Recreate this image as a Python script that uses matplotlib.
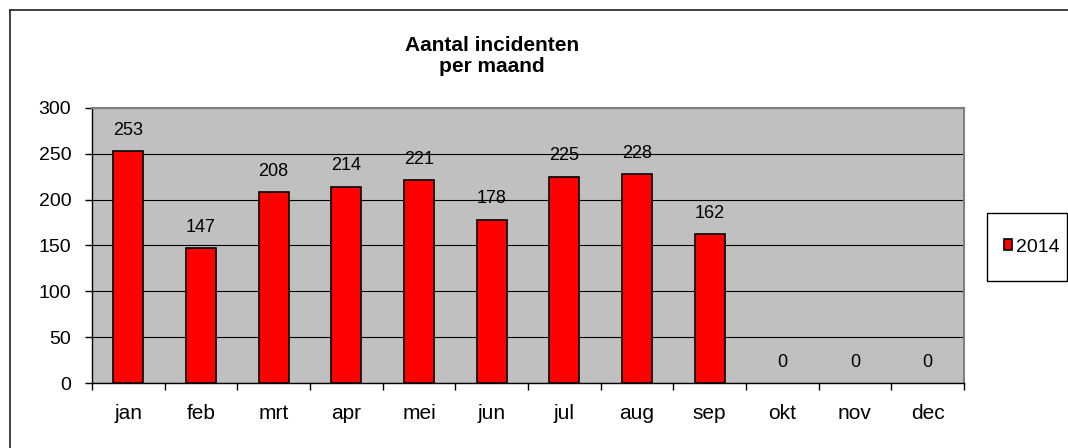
import numpy as np
import matplotlib as mpl
mpl.use("Agg")
import matplotlib.pyplot as plt
from matplotlib.patches import Rectangle
from matplotlib.lines import Line2D

months = ["jan", "feb", "mrt", "apr", "mei", "jun", "jul", "aug", "sep", "okt", "nov", "dec"]
counts_2014 = [253, 147, 208, 214, 221, 178, 225, 228, 162, 0, 0, 0]
yticks = [0, 50, 100, 150, 200, 250, 300]

plt.rcParams.update({"font.family": "Liberation Sans"})

W, H = 1068, 448
fig = plt.figure(figsize=(W / 100, H / 100), dpi=100)
fig.patch.set_facecolor("white")

# outer chart frame (cut off at right/bottom like the source)
fig.add_artist(Line2D([10 / W, 1.0], [1 - 10 / H, 1 - 10 / H], transform=fig.transFigure,
                      color="#303030", lw=1.3))
fig.add_artist(Line2D([10 / W, 10 / W], [0.0, 1 - 10 / H], transform=fig.transFigure,
                      color="#303030", lw=1.3))

ax = fig.add_axes([92 / W, (H - 383) / H, 872 / W, 275 / H])
ax.set_facecolor("#C0C0C0")
x = np.arange(len(months))
edge_w = [1.2 if v > 0 else 0 for v in counts_2014]
bars = ax.bar(x, counts_2014, width=0.41, color="#FF0000", edgecolor="black",
              linewidth=edge_w, zorder=3, label="2014")
for xi, v in zip(x, counts_2014):
    ax.annotate(str(v), (xi, v), xytext=(0, 15), textcoords="offset points",
                ha="center", va="center", fontsize=13)

ax.set_xlim(-0.5, len(months) - 0.5)
ax.set_ylim(0, 300)
ax.set_yticks(yticks)
ax.set_yticklabels([str(t) for t in yticks], fontsize=14)
ax.yaxis.grid(True, color="black", lw=0.8, zorder=1)
ax.set_axisbelow(True)

ax.set_xticks(x)
ax.set_xticklabels(months, fontsize=15)
ax.set_xticks(np.arange(len(months) + 1) - 0.5, minor=True)
ax.tick_params(axis="x", which="major", length=0, pad=15)
ax.tick_params(axis="x", which="minor", length=5, width=1, direction="out")
ax.tick_params(axis="y", length=5, width=1, direction="out", pad=10)

for s in ["top", "right"]:
    ax.spines[s].set_color("#808080")
    ax.spines[s].set_linewidth(1.5)
for s in ["left", "bottom"]:
    ax.spines[s].set_color("black")
    ax.spines[s].set_linewidth(1)

fig.text(492 / W, 1 - 56 / H, "Aantal incidenten\nper maand", ha="center", va="center",
         fontsize=15, fontweight="bold", linespacing=1.1)

# legend box
fig.add_artist(Rectangle((987 / W, (H - 281) / H), 80 / W, 68 / H, transform=fig.transFigure,
                         facecolor="white", edgecolor="black", lw=1))
fig.legend(handles=[bars], labels=["2014"], loc="center left",
           bbox_to_anchor=(994 / W, 1 - 247 / H), frameon=False, fontsize=14,
           handlelength=0.45, handleheight=0.45, handletextpad=0.2, borderpad=0)

fig.savefig("out.png", dpi=100)
